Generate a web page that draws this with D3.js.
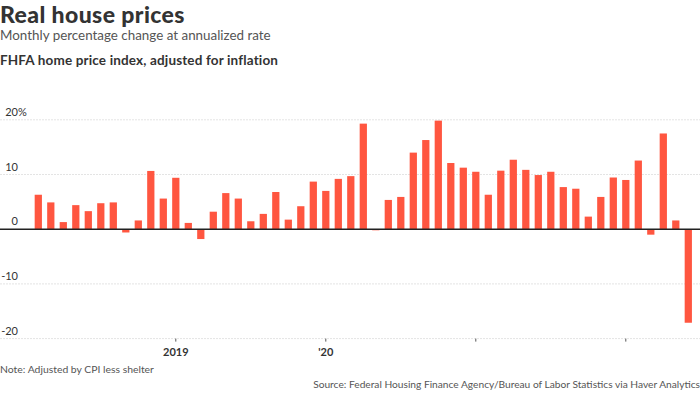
<!DOCTYPE html>
<html>
<head>
<meta charset="utf-8">
<script src="https://cdn.jsdelivr.net/npm/d3@7"></script>
<style>
  body { margin: 0; background: #fff; }
  svg { display: block; font-family: Lato, "Open Sans", sans-serif; }
</style>
</head>
<body>
<svg width="700" height="394"></svg>
<script>
var svg = d3.select("svg"),
    width = 700, height = 394;

// monthly data, Feb 2018 .. Jun 2022
var months = d3.timeMonths(new Date(2018, 1, 1), new Date(2022, 6, 1));
var values = [6.3, 4.9, 1.3, 4.4, 3.3, 4.75, 4.9, -0.6, 1.6, 10.65, 5.6,
              9.4, 1.15, -1.8, 3.2, 6.6, 5.6, 1.45, 2.8, 6.8, 1.75, 4.2, 8.7,
              7.0, 9.2, 9.7, 19.3, -0.2, 5.35, 5.9, 14.0, 16.3, 19.85, 12.1, 11.25, 10.5, 6.3, 10.7,
              12.7, 10.85, 9.9, 10.5, 7.7, 7.4, 2.3, 5.9, 9.45, 9.0, 12.55, -1.0, 17.5, 1.6,
              -17.1];
var yTicks = [20, 10, 0, -10, -20];
var yearTicks = [new Date(2019, 0, 1), new Date(2020, 0, 1), new Date(2021, 0, 1), new Date(2022, 0, 1)];
var yearLabels = ["2019", "'20", "", ""];

var data = months.map((d, i) => ({ date: d, value: values[i] }));

var x = d3.scaleBand()
    .domain(months.map(d => +d))
    .range([32.05, 694.55])
    .paddingInner(0.42)
    .paddingOuter(0.21);

var y = d3.scaleLinear().domain([-20, 20]).range([338.6, 119.8]);

/***********************************************************************************************/

// titles
svg.append("text").attr("x", 0).attr("y", 23)
  .style("font-size", "23px").style("font-weight", 900).style("fill", "#333")
  .style("letter-spacing", "0.4px")
  .text("Real house prices");
svg.append("text").attr("x", 0).attr("y", 40)
  .style("font-size", "13.4px").style("fill", "#555")
  .text("Monthly percentage change at annualized rate");
svg.append("text").attr("x", 0).attr("y", 65)
  .style("font-size", "13.5px").style("font-weight", 700).style("fill", "#333")
  .style("letter-spacing", "0.15px")
  .text("FHFA home price index, adjusted for inflation");

// grid
var grid = svg.append("g");
grid.selectAll("line").data(yTicks.filter(d => d !== 0)).join("line")
  .attr("x1", 0).attr("x2", width)
  .attr("y1", d => y(d)).attr("y2", d => y(d))
  .style("stroke", "#e4e4e4").style("stroke-dasharray", "2,1");

grid.selectAll("text.num").data(yTicks).join("text")
  .attr("class", "num")
  .attr("x", 18).attr("y", d => y(d) - 4)
  .attr("text-anchor", "end")
  .style("font-size", "11px").style("fill", "#333")
  .text(d => d);
svg.append("text").attr("x", 18).attr("y", y(20) - 4)
  .style("font-size", "11px").style("fill", "#333").text("%");

// bars
svg.append("g").selectAll("rect").data(data).join("rect")
  .attr("x", d => x(+d.date))
  .attr("width", x.bandwidth())
  .attr("y", d => y(Math.max(0, d.value)))
  .attr("height", d => Math.abs(y(d.value) - y(0)))
  .style("fill", "#ff5640");

// zero line
svg.append("line").attr("x1", 0).attr("x2", width)
  .attr("y1", y(0)).attr("y2", y(0))
  .style("stroke", "#222").style("stroke-width", 1.5);

// x ticks
var xt = svg.append("g");
xt.selectAll("line").data(yearTicks).join("line")
  .attr("x1", d => x(+d) + x.bandwidth() / 2).attr("x2", d => x(+d) + x.bandwidth() / 2)
  .attr("y1", 338.6).attr("y2", 341.6)
  .style("stroke", "#555").style("stroke-width", 1);
xt.selectAll("text").data(yearTicks).join("text")
  .attr("x", d => x(+d) + x.bandwidth() / 2).attr("y", 356)
  .attr("text-anchor", "middle")
  .style("font-size", "11px").style("font-weight", 700).style("fill", "#333")
  .text((d, i) => yearLabels[i]);

// footer
svg.append("text").attr("x", 0).attr("y", 373)
  .style("font-size", "10.4px").style("fill", "#555")
  .text("Note: Adjusted by CPI less shelter");
svg.append("text").attr("x", width).attr("y", 388)
  .attr("text-anchor", "end")
  .style("font-size", "10.2px").style("fill", "#555")
  .text("Source: Federal Housing Finance Agency/Bureau of Labor Statistics via Haver Analytics");
</script>
</body>
</html>
